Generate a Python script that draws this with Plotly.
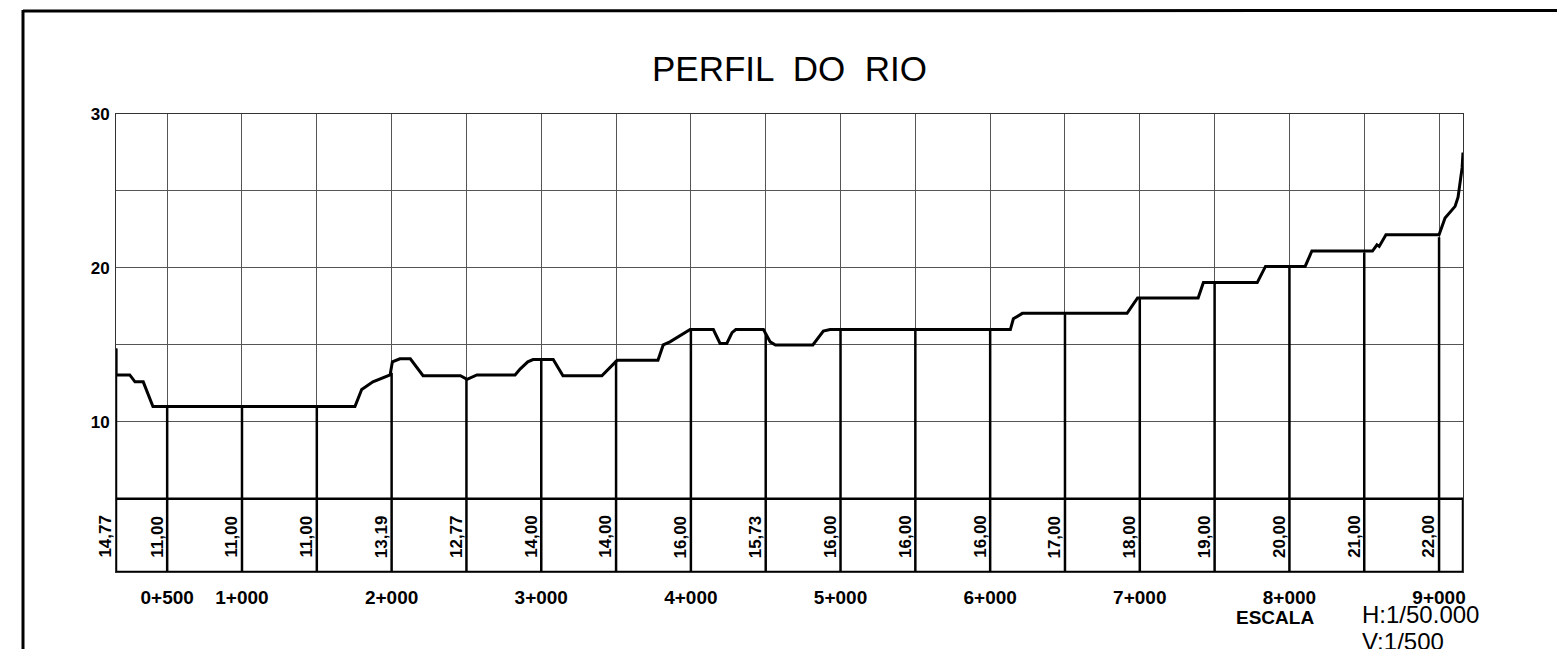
import plotly.graph_objects as go

# ---------------- data ----------------
distance_km = [0.158, 0.158, 0.25, 0.285, 0.34, 0.405, 1.755, 1.80, 1.875, 1.99, 2.005,
               2.055, 2.125, 2.21, 2.46, 2.504, 2.57, 2.825, 2.86, 2.91, 2.945, 3.08,
               3.145, 3.405, 3.507, 3.78, 3.815, 3.86, 3.995, 4.15, 4.195, 4.24, 4.275,
               4.30, 4.485, 4.53, 4.565, 4.815, 4.885, 4.93, 6.135, 6.155, 6.215, 6.915,
               6.985, 7.39, 7.425, 7.785, 7.84, 8.105, 8.15, 8.555, 8.585, 8.60, 8.645,
               9.0, 9.04, 9.107, 9.127, 9.154, 9.16]
elevation_m = [14.77, 13.05, 13.05, 12.6, 12.6, 11.0, 11.0, 12.1, 12.6, 13.05, 13.9,
               14.1, 14.1, 13.0, 13.0, 12.77, 13.05, 13.05, 13.45, 13.9, 14.05, 14.05,
               13.0, 13.0, 14.0, 14.0, 15.0, 15.2, 16.0, 16.0, 15.1, 15.1, 15.8,
               16.0, 16.0, 15.2, 15.0, 15.0, 15.9, 16.0, 16.0, 16.7, 17.05, 17.05,
               18.05, 18.05, 19.05, 19.05, 20.1, 20.1, 21.1, 21.1, 21.5, 21.4, 22.15,
               22.15, 23.25, 24.0, 24.6, 26.5, 27.5]

station_km = [0.158, 0.5, 1.0, 1.5, 2.0, 2.5, 3.0, 3.5, 4.0, 4.5, 5.0, 5.5, 6.0,
              6.5, 7.0, 7.5, 8.0, 8.5, 9.0]
station_elev = [14.77, 11.00, 11.00, 11.00, 13.19, 12.77, 14.00, 14.00, 16.00, 15.73,
                16.00, 16.00, 16.00, 17.00, 18.00, 19.00, 20.00, 21.00, 22.00]
station_text = ["14,77", "11,00", "11,00", "11,00", "13,19", "12,77", "14,00", "14,00",
                "16,00", "15,73", "16,00", "16,00", "16,00", "17,00", "18,00", "19,00",
                "20,00", "21,00", "22,00"]

tick_km = [0.5, 1, 2, 3, 4, 5, 6, 7, 8, 9]
tick_text = ["0+500", "1+000", "2+000", "3+000", "4+000", "5+000", "6+000", "7+000",
             "8+000", "9+000"]
y_tick_vals = [10, 20, 30]

x_range = [0.158, 9.16]
y_range = [0.25, 30]
band_top = 5

# ---------------- layout geometry (page pixels, body margin 8px) ----------------
OFF = 8
W, H = 1565 - OFF, 649 - OFF
PL, PR, PT, PB = 116, 1463, 114, 572          # plot box in page pixels
L, T = PL - OFF, PT - OFF
R, B = W - (PR - OFF), H - (PB - OFF)
PW, PH = W - L - R, H - T - B


def px(xp):
    return (xp - OFF - L) / PW


def py(yp):
    return (H - B - (yp - OFF)) / PH


FONT = "Liberation Sans"

fig = go.Figure()

# station (vertical elevation) lines
sx, sy = [], []
for s, e in zip(station_km, station_elev):
    sx += [s, s, None]
    sy += [y_range[0], e, None]
fig.add_trace(go.Scatter(x=sx, y=sy, mode="lines",
                         line=dict(color="black", width=2.5),
                         hoverinfo="skip", showlegend=False))

# river bed profile
fig.add_trace(go.Scatter(x=distance_km, y=elevation_m, mode="lines",
                         line=dict(color="black", width=3),
                         showlegend=False))

# station labels in the table band
for s, t in zip(station_km, station_text):
    fig.add_annotation(x=s, y=2.55, xref="x", yref="y", text=t,
                       textangle=-90, showarrow=False, xanchor="center",
                       yanchor="middle", xshift=-10,
                       font=dict(family=FONT, size=17, color="black", weight="bold"))

shapes = []
# table band lines
shapes.append(dict(type="line", xref="x", yref="y", x0=x_range[0], x1=x_range[1],
                   y0=band_top, y1=band_top, line=dict(color="black", width=2.5)))
shapes.append(dict(type="line", xref="x", yref="y", x0=x_range[0], x1=x_range[1],
                   y0=y_range[0], y1=y_range[0], line=dict(color="black", width=2.5)))
shapes.append(dict(type="line", xref="x", yref="y", x0=x_range[1], x1=x_range[1],
                   y0=y_range[0], y1=band_top, line=dict(color="black", width=2.5)))
# drawing frame
shapes.append(dict(type="line", xref="paper", yref="paper", x0=px(23), x1=px(1575),
                   y0=py(11), y1=py(10.5), line=dict(color="black", width=3)))
shapes.append(dict(type="line", xref="paper", yref="paper", x0=px(23), x1=px(23),
                   y0=py(10), y1=py(660), line=dict(color="black", width=3)))

annotations = [
    dict(text="PERFIL  DO  RIO", x=0.5, y=py(68), xref="paper", yref="paper",
         showarrow=False, xanchor="center", yanchor="middle",
         font=dict(family=FONT, size=35, color="black")),
    dict(text="ESCALA", x=px(1275), y=py(617), xref="paper", yref="paper",
         showarrow=False, xanchor="center", yanchor="middle",
         font=dict(family=FONT, size=19, color="black", weight="bold")),
    dict(text="H:1/50.000", x=px(1360), y=py(614), xref="paper", yref="paper",
         showarrow=False, xanchor="left", yanchor="middle",
         font=dict(family=FONT, size=24, color="black")),
    dict(text="V:1/500", x=px(1360), y=py(641), xref="paper", yref="paper",
         showarrow=False, xanchor="left", yanchor="middle",
         font=dict(family=FONT, size=24, color="black")),
]

fig.update_layout(
    width=W, height=H,
    margin=dict(l=L, r=R, t=T, b=B, pad=0),
    paper_bgcolor="white", plot_bgcolor="white",
    shapes=shapes,
    showlegend=False,
    xaxis=dict(range=x_range, tickmode="array", tickvals=tick_km, ticktext=tick_text,
               showgrid=True, gridcolor="#555", gridwidth=1,
               minor=dict(dtick=0.5, tick0=0, showgrid=True, gridcolor="#555", gridwidth=1),
               showline=True, mirror=True, linecolor="#333", linewidth=1,
               zeroline=False, ticks="", ticklabelstandoff=8,
               tickfont=dict(family=FONT, size=19, color="black", weight="bold"),
               fixedrange=True),
    yaxis=dict(range=y_range, tickmode="array", tickvals=y_tick_vals,
               showgrid=True, gridcolor="#555", gridwidth=1,
               minor=dict(dtick=5, tick0=0, showgrid=True, gridcolor="#555", gridwidth=1),
               showline=True, mirror=True, linecolor="#333", linewidth=1,
               zeroline=False, ticks="", ticklabelstandoff=2,
               tickfont=dict(family=FONT, size=17, color="black", weight="bold"),
               fixedrange=True),
)
for a in annotations:
    fig.add_annotation(**a)

fig.write_html("out.html")
